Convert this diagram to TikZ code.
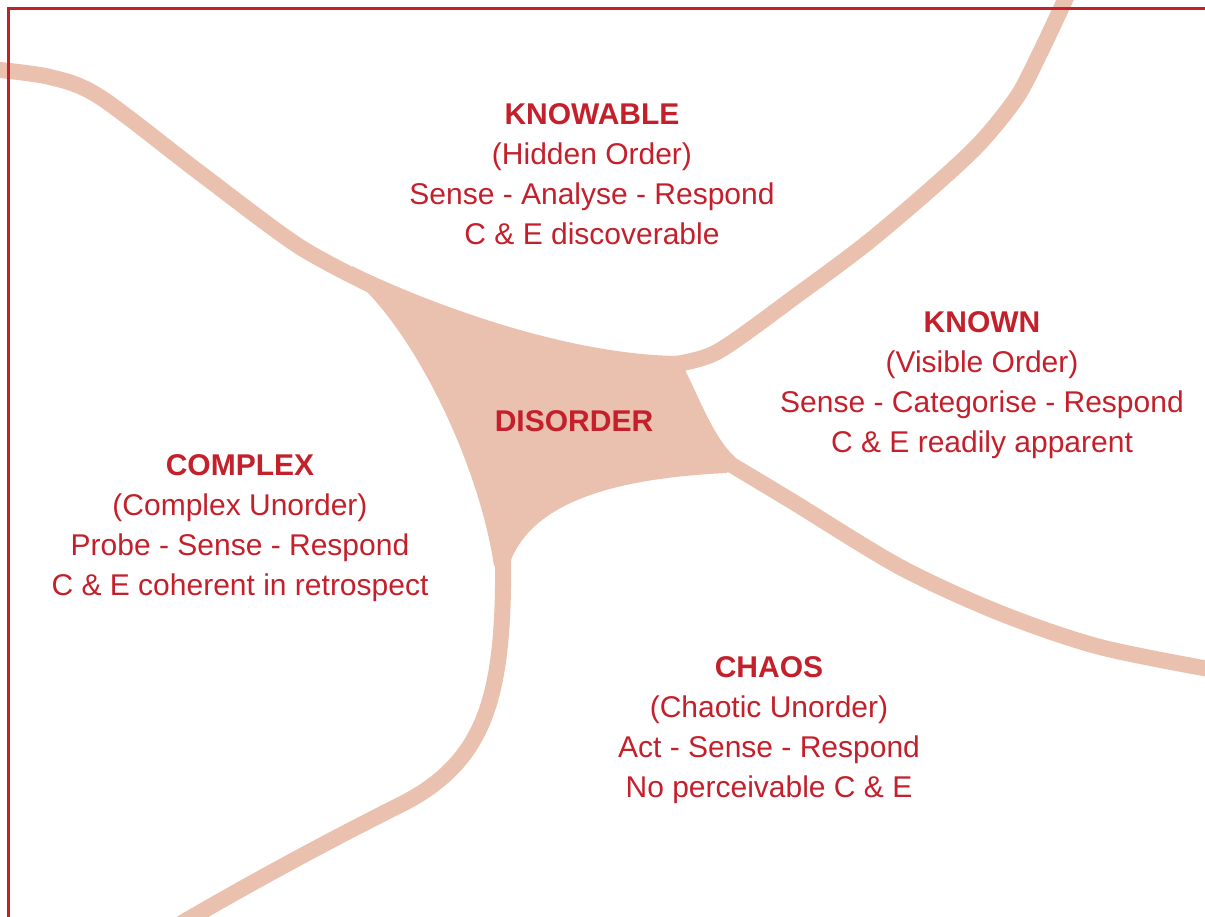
\documentclass[tikz,border=0pt]{standalone}
\usepackage{fontspec}
\setmainfont{Liberation Sans}
\definecolor{cynred}{RGB}{196,32,44}
\definecolor{cynband}{RGB}{234,192,175}

\begin{document}
\begin{tikzpicture}[x=1pt, y=-1pt,
    band/.style={draw=cynband, line width=16pt},
    zone/.style={text=cynred, align=center, font=\fontsize{30}{40}\selectfont},
    text=cynred]
  \useasboundingbox (0,0) rectangle (1205,916);
  \clip (0,0) rectangle (1205,916);

  % the disorder area, its edges run into the four borders
  \fill[cynband] (352,266) .. controls (410,295) and (560,356) .. (682,356) -- (686,372)
    .. controls (700,400) and (715,440) .. (736,458) -- (727,473)
    .. controls (620,478) and (535,500) .. (511,560) -- (494,566)
    .. controls (480,470) and (420,340) .. (357,282) -- cycle;

  % the four borders
  \draw[band] plot[smooth] coordinates {(-10,69) (50,77) (100,97) (200,173) (300,247) (385,292)};
  \draw[band] plot[smooth] coordinates {(668,365) (717,352) (800,293) (867,243) (933,187) (980,143) (1017,97) (1040,53) (1065,0) (1070,-12)};
  \draw[band] plot[smooth] coordinates {(715,455) (790,500) (900,567) (1000,613) (1100,647) (1220,671)};
  \draw[band] (503,545) .. controls (505,690) and (490,760) .. (400,805)
    .. controls (330,840) and (250,883) .. (170,930);

  \node[zone] (knowable) at (592,174) {\textbf{KNOWABLE}\\(Hidden Order)\\Sense - Analyse - Respond\\C \& E discoverable};
  \node[zone] (known) at (982,385) {\textbf{KNOWN}\\(Visible Order)\\Sense - Categorise - Respond\\C \& E readily apparent};
  \node[zone] (disorder) at (574,421) {\textbf{DISORDER}};
  \node[zone] (complex) at (240,528) {\textbf{COMPLEX}\\(Complex Unorder)\\Probe - Sense - Respond\\C \& E coherent in retrospect};
  \node[zone] (chaos) at (769,730) {\textbf{CHAOS}\\(Chaotic Unorder)\\Act - Sense - Respond\\No perceivable C \& E};

  % frame
  \draw[cynred, line width=2.5pt] (1215,8.5) -- (8.5,8.5) -- (8.5,926);
\end{tikzpicture}
\end{document}
